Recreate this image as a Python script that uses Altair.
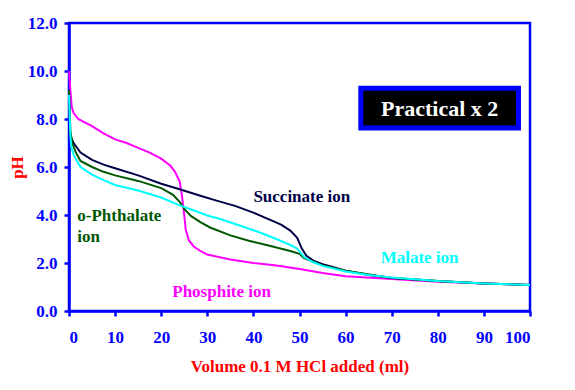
import altair as alt
import pandas as pd

# ---- data ----
phosphite_v = [0, 0.3, 0.6, 1, 2, 3, 5, 7.5, 10, 12.5, 15, 17.5, 20, 22, 23, 24, 24.5, 25, 25.3, 26, 27, 28.5, 30, 35, 40, 45, 50, 55, 60, 70, 80, 90, 100]
phosphite_ph = [10.0, 9.2, 8.5, 8.25, 8.0, 7.9, 7.7, 7.4, 7.15, 7.0, 6.8, 6.6, 6.35, 6.05, 5.8, 5.4, 4.8, 4.0, 3.4, 2.95, 2.7, 2.5, 2.35, 2.15, 2.0, 1.9, 1.75, 1.58, 1.45, 1.33, 1.22, 1.15, 1.08]

succinate_v = [0, 0.5, 1, 2.5, 5, 7.5, 10, 15, 20, 24, 28.5, 32, 36, 40, 43, 46, 48, 49.5, 50.5, 51.5, 53, 55, 57, 60, 65, 70, 80, 90, 100]
succinate_ph = [7.5, 7.2, 7.0, 6.6, 6.3, 6.1, 5.95, 5.65, 5.3, 5.07, 4.8, 4.6, 4.38, 4.1, 3.85, 3.6, 3.35, 3.05, 2.6, 2.3, 2.1, 1.95, 1.85, 1.68, 1.5, 1.38, 1.25, 1.15, 1.08]

phthalate_v = [0, 0.3, 0.7, 1.5, 2.5, 5, 7.5, 10, 15, 20, 22.5, 24, 25, 26.5, 28.5, 30.6, 35, 39, 43.5, 48, 50, 51, 53, 55, 60, 70, 80, 90, 100]
phthalate_ph = [9.2, 7.5, 7.0, 6.6, 6.25, 6.0, 5.8, 5.65, 5.42, 5.12, 4.85, 4.55, 4.25, 3.95, 3.7, 3.48, 3.15, 2.93, 2.72, 2.5, 2.38, 2.2, 2.05, 1.9, 1.68, 1.38, 1.25, 1.15, 1.08]

malate_v = [0, 0.3, 0.5, 1, 2.5, 5, 7.5, 10, 15, 20, 24, 27, 30, 33, 37, 41, 45, 48, 49.5, 51, 53, 55, 60, 65, 70, 80, 90, 100]
malate_ph = [9.0, 7.3, 6.85, 6.5, 6.0, 5.68, 5.45, 5.25, 5.02, 4.73, 4.4, 4.2, 3.98, 3.82, 3.56, 3.3, 3.0, 2.75, 2.6, 2.25, 2.03, 1.88, 1.65, 1.5, 1.4, 1.25, 1.15, 1.08]

series_names = ["Phosphite", "Succinate", "o-Phthalate", "Malate"]
series_colors = ["#FF00FF", "#000048", "#005800", "#00FFFF"]

label_text = ["Succinate ion", "o-Phthalate", "ion", "Malate ion", "Phosphite ion"]
label_x = [40, 1.8, 1.8, 67.6, 22.4]
label_y = [4.77, 3.95, 3.07, 2.2, 0.79]
label_color = ["#000048", "#005800", "#005800", "#00FFFF", "#FF00FF"]

box_text = ["Practical x 2"]
box_x1, box_x2 = [63.3], [97.5]
box_y1, box_y2 = [9.28], [7.63]

x_ticks = list(range(0, 101, 10))
y_ticks = [0, 2, 4, 6, 8, 10, 12]

# ---- build tables ----
rows = []
for name, vs, ps in [("Phosphite", phosphite_v, phosphite_ph),
                     ("Succinate", succinate_v, succinate_ph),
                     ("o-Phthalate", phthalate_v, phthalate_ph),
                     ("Malate", malate_v, malate_ph)]:
    for i, (v, p) in enumerate(zip(vs, ps)):
        rows.append({"series": name, "v": v, "ph": p, "i": i})
df = pd.DataFrame(rows)

labels = pd.DataFrame({"t": label_text, "x": label_x, "y": label_y, "c": label_color})
box = pd.DataFrame({"t": box_text, "x1": box_x1, "x2": box_x2, "y1": box_y1, "y2": box_y2})

FONT = "'Liberation Serif', 'Times New Roman', 'DejaVu Serif', serif"
BLUE = "#0000FF"
RED = "#FF0000"

xscale = alt.Scale(domain=[0, 100], nice=False, zero=True)
yscale = alt.Scale(domain=[0, 12], nice=False)

lines = alt.Chart(df).mark_line(strokeWidth=2, interpolate="linear").encode(
    x=alt.X("v:Q", scale=xscale,
            axis=alt.Axis(values=x_ticks, title="Volume 0.1 M HCl added (ml)",
                          grid=False, labelPadding=13, titlePadding=13)),
    y=alt.Y("ph:Q", scale=yscale,
            axis=alt.Axis(values=y_ticks, format=".1f", title="pH", grid=False,
                          labelPadding=7, titlePadding=1)),
    color=alt.Color("series:N", scale=alt.Scale(domain=series_names, range=series_colors), legend=None),
    order="i:Q",
    detail="series:N",
)

text = alt.Chart(labels).mark_text(align="left", baseline="middle", font=FONT,
                                   fontWeight="bold", fontSize=17).encode(
    x="x:Q", y="y:Q", text="t:N", color=alt.Color("c:N", scale=None)
)

rect = alt.Chart(box).mark_rect(fill="black", stroke=BLUE, strokeWidth=5).encode(
    x="x1:Q", x2="x2:Q", y="y1:Q", y2="y2:Q"
)
rect_text = alt.Chart(box).mark_text(font=FONT, fontWeight="bold", fontSize=22,
                                     color="white", baseline="middle").encode(
    x=alt.X("mx:Q"), y=alt.Y("my:Q"), text="t:N"
).transform_calculate(mx="(datum.x1 + datum.x2) / 2", my="(datum.y1 + datum.y2) / 2 - 0.02")

chart = alt.layer(lines, text, rect, rect_text).properties(
    width=461, height=288,
    autosize=alt.AutoSizeParams(type="none"),
    padding={"left": 61, "top": 15, "right": 37, "bottom": 71},
    background="white",
).configure_view(
    stroke=BLUE, strokeWidth=2.5
).configure_axis(
    domainColor=BLUE, domainWidth=2.5, tickColor=BLUE, tickWidth=2.5, tickSize=5,
    labelColor=BLUE, labelFont=FONT, labelFontWeight="bold", labelFontSize=17,
    titleColor=RED, titleFont=FONT, titleFontWeight="bold", titleFontSize=17,
)

chart.save("out.html", embed_options={"renderer": "svg", "actions": False})
